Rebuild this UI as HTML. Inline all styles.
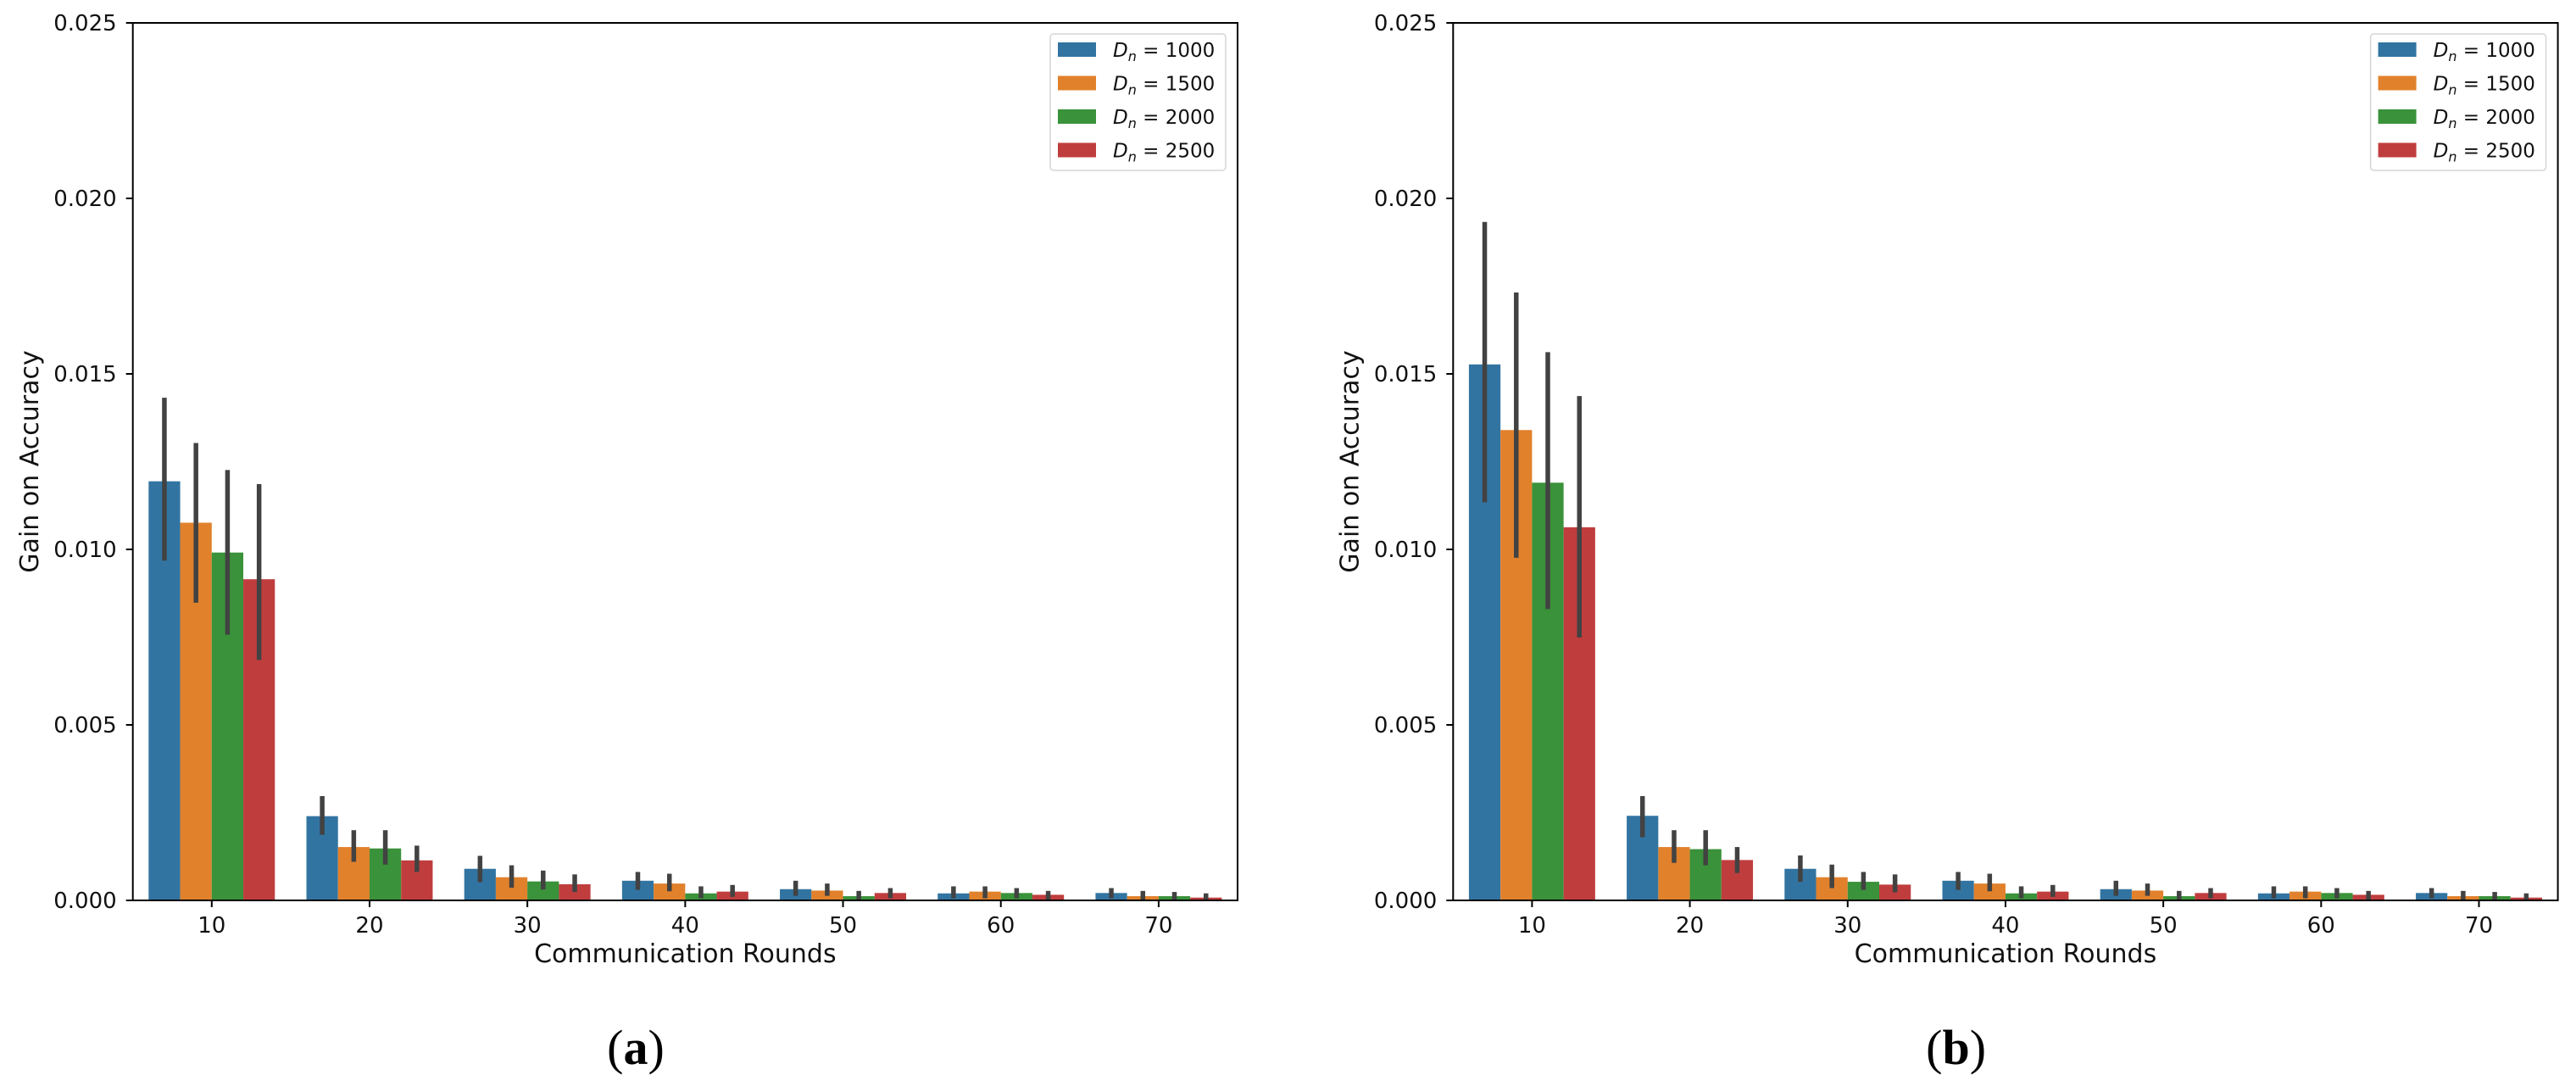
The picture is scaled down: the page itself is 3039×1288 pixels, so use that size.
<!DOCTYPE html>
<html><head><meta charset="utf-8"><style>
body{margin:0;background:#fff;}
svg{display:block;font-family:"DejaVu Sans","Liberation Sans",sans-serif;}
</style></head><body>
<svg id="fig" width="3039" height="1288" viewBox="0 0 3039 1288" xmlns="http://www.w3.org/2000/svg"></svg>
<script>
const categories = ["10","20","30","40","50","60","70"];
const seriesLabels = ["1000","1500","2000","2500"];
const yTicks = [0, 0.005, 0.010, 0.015, 0.020, 0.025];
const yTickLabels = ["0.000","0.005","0.010","0.015","0.020","0.025"];
// panel (a)
const aMean1000 = [0.01194,0.00240,0.00090,0.00056,0.00032,0.00020,0.00021];
const aMean1500 = [0.01076,0.00152,0.00066,0.00048,0.00028,0.00025,0.00012];
const aMean2000 = [0.00991,0.00148,0.00054,0.00020,0.00012,0.00021,0.00012];
const aMean2500 = [0.00915,0.00114,0.00046,0.00025,0.00021,0.00016,0.00008];
const aLo1000 = [0.00968,0.00187,0.00052,0.00030,0.00013,0.00006,0.00006];
const aHi1000 = [0.01432,0.00297,0.00127,0.00081,0.00056,0.00040,0.00035];
const aLo1500 = [0.00848,0.00110,0.00036,0.00026,0.00013,0.00006,0.00002];
const aHi1500 = [0.01303,0.00200,0.00100,0.00076,0.00048,0.00040,0.00027];
const aLo2000 = [0.00757,0.00102,0.00031,0.00006,0.00002,0.00006,0.00002];
const aHi2000 = [0.01226,0.00200,0.00085,0.00040,0.00027,0.00035,0.00024];
const aLo2500 = [0.00685,0.00081,0.00024,0.00010,0.00006,0.00002,0.00002];
const aHi2500 = [0.01186,0.00156,0.00074,0.00044,0.00035,0.00027,0.00020];
// panel (b)
const bMean1000 = [0.01527,0.00241,0.00090,0.00056,0.00032,0.00020,0.00021];
const bMean1500 = [0.01340,0.00152,0.00066,0.00048,0.00028,0.00025,0.00012];
const bMean2000 = [0.01190,0.00146,0.00053,0.00020,0.00012,0.00021,0.00012];
const bMean2500 = [0.01063,0.00115,0.00045,0.00025,0.00021,0.00016,0.00008];
const bLo1000 = [0.01134,0.00180,0.00053,0.00030,0.00013,0.00006,0.00006];
const bHi1000 = [0.01933,0.00297,0.00128,0.00081,0.00056,0.00040,0.00035];
const bLo1500 = [0.00976,0.00107,0.00035,0.00026,0.00013,0.00006,0.00002];
const bHi1500 = [0.01732,0.00200,0.00102,0.00076,0.00048,0.00040,0.00027];
const bLo2000 = [0.00830,0.00100,0.00030,0.00006,0.00002,0.00006,0.00002];
const bHi2000 = [0.01562,0.00200,0.00081,0.00040,0.00027,0.00035,0.00024];
const bLo2500 = [0.00749,0.00078,0.00023,0.00010,0.00006,0.00002,0.00002];
const bHi2500 = [0.01437,0.00152,0.00074,0.00044,0.00035,0.00027,0.00020];

const colors = ["#3274a1","#e1812c","#3a923a","#c03d3e"];
const NS = "http://www.w3.org/2000/svg";
const svg = document.getElementById('fig');
function mk(tag, attrs, parent, text){
  const e = document.createElementNS(NS, tag);
  for (const k in attrs) e.setAttribute(k, attrs[k]);
  if (text !== undefined) e.textContent = text;
  (parent||svg).appendChild(e);
  return e;
}
function drawPanel(ox, means, los, his, caption, pname){
  const L = ox + 156.7, R = ox + 1460, T = 27, B = 1062;
  const g = mk('g', {});
  
  
  const step = (R - L) / categories.length;
  const xC = i => L + step * (i + 0.5);
  const yS = v => B - (v / 0.025) * (B - T);
  const bw = step * 0.8 / 4;
  for (let s = 0; s < 4; s++){
    for (let i = 0; i < categories.length; i++){
      const x0 = xC(i) - step*0.4 + s*bw;
      const r = mk('rect', {x:x0, y:yS(means[s][i]), width:bw, height:B - yS(means[s][i]), fill:colors[s]}, g);
      
      
    }
  }
  for (let s = 0; s < 4; s++){
    for (let i = 0; i < categories.length; i++){
      const cx = xC(i) - step*0.4 + (s+0.5)*bw;
      const l = mk('line', {x1:cx, x2:cx, y1:yS(los[s][i]), y2:yS(his[s][i]), stroke:'#424242', 'stroke-width':5.5}, g);
      
      
    }
  }
  const fr = mk('rect', {x:L, y:T, width:R-L, height:B-T, fill:'none', stroke:'#000', 'stroke-width':2}, g);
  
  
  for (let k = 0; k < yTicks.length; k++){
    const y = yS(yTicks[k]);
    mk('line', {x1:L-8, x2:L, y1:y, y2:y, stroke:'#000', 'stroke-width':2}, g);
    const t = mk('text', {x:L-19, y:y+9, 'text-anchor':'end', 'font-size':26, fill:'#111'}, g, yTickLabels[k]);
    
    
  }
  for (let i = 0; i < categories.length; i++){
    const x = xC(i);
    mk('line', {x1:x, x2:x, y1:B, y2:B+8, stroke:'#000', 'stroke-width':2}, g);
    const t = mk('text', {x:x, y:B+38, 'text-anchor':'middle', 'font-size':26, fill:'#111'}, g, categories[i]);
    
    
  }
  const xt = mk('text', {x:(L+R)/2, y:B+73, 'text-anchor':'middle', 'font-size':30, fill:'#111'}, g, 'Communication Rounds');
  
  
  const yt = mk('text', {x:0, y:0, 'text-anchor':'middle', 'font-size':30, fill:'#111', transform:'translate('+(ox+45)+','+((T+B)/2)+') rotate(-90)'}, g, 'Gain on Accuracy');
  
  
  const lg = mk('g', {}, g);
  
  
  const lx = ox + 1239;
  mk('rect', {x:lx, y:40, width:207, height:161, rx:4, fill:'#fff', stroke:'#d6d6d6', 'stroke-width':1.5}, lg);
  for (let s = 0; s < 4; s++){
    const cy = 58 + s*39.5;
    mk('rect', {x:lx+9, y:cy-8, width:45, height:17, fill:colors[s]}, lg);
    const t = mk('text', {x:lx+74, y:cy+9, 'font-size':23, fill:'#111'}, lg);
    
    
    mk('tspan', {'font-style':'italic'}, t, 'D');
    mk('tspan', {'font-style':'italic', 'font-size':16, dy:5}, t, 'n');
    mk('tspan', {dy:-5}, t, ' = ' + seriesLabels[s]);
  }
  const c = mk('text', {x:ox+750, y:1255, 'text-anchor':'middle', 'font-size':58, 'font-family':'"Liberation Serif",serif', fill:'#000'}, g);
  
  
  mk('tspan', {}, c, '(');
  mk('tspan', {'font-weight':'bold'}, c, caption);
  mk('tspan', {}, c, ')');
}
drawPanel(0, [aMean1000,aMean1500,aMean2000,aMean2500], [aLo1000,aLo1500,aLo2000,aLo2500], [aHi1000,aHi1500,aHi2000,aHi2500], 'a', 'a');
drawPanel(1557.6, [bMean1000,bMean1500,bMean2000,bMean2500], [bLo1000,bLo1500,bLo2000,bLo2500], [bHi1000,bHi1500,bHi2000,bHi2500], 'b', 'b');
</script>
</body></html>
